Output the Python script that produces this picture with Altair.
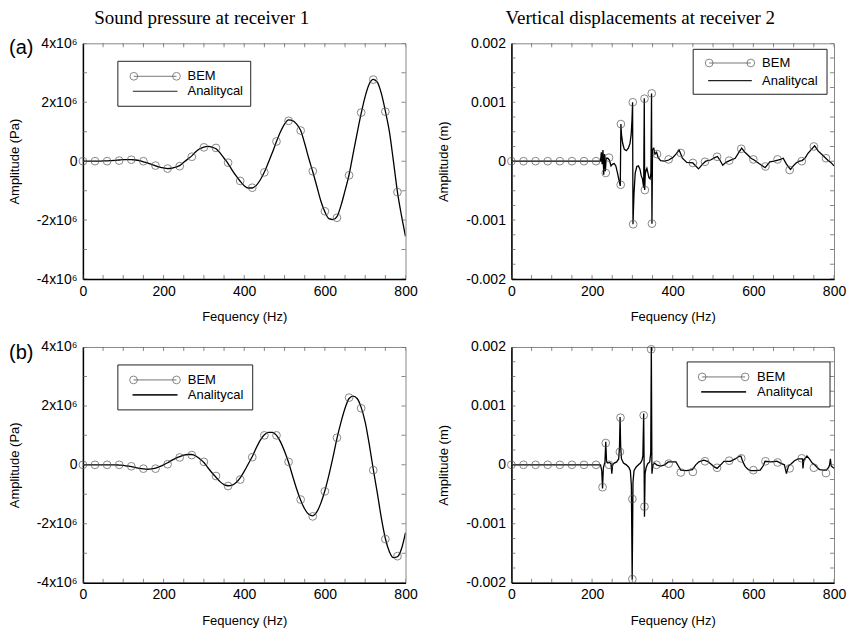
import altair as alt
import pandas as pd

W, H = 323, 236

# ---------------- data ----------------
FREQ_10 = list(range(0, 810, 10))
BEM_FREQ_LEFT = list(range(0, 790, 30))

# (a) sound pressure, receiver 1 (units of 1e6 Pa)
A1_ANALYTICAL = [0, 0, 0, 0, 0, 0.01, 0.01, 0.02, 0.03, 0.04,
                 0.05, 0.05, 0.05, 0.04, 0.02, -0.02, -0.06, -0.11, -0.16, -0.2,
                 -0.23, -0.25, -0.24, -0.2, -0.15, -0.04, 0.07, 0.18, 0.32, 0.42,
                 0.48, 0.5, 0.48, 0.42, 0.28, 0.1, -0.08, -0.3, -0.5, -0.68,
                 -0.83, -0.91, -0.91, -0.82, -0.63, -0.37, -0.04, 0.3, 0.67, 1.0,
                 1.26, 1.4, 1.38, 1.26, 1.04, 0.6, 0.1, -0.36, -0.85, -1.35,
                 -1.72, -1.95, -1.98, -1.88, -1.5, -1.0, -0.46, 0.25, 0.95, 1.62,
                 2.2, 2.62, 2.78, 2.68, 2.3, 1.7, 1.0, 0.0, -1.05, -1.85, -2.55]
A1_BEM = [0, 0, 0, 0.02, 0.05, 0.0, -0.15, -0.25, -0.17, 0.15, 0.47, 0.45, -0.05, -0.67,
          -0.9, -0.38, 0.67, 1.37, 1.04, -0.34, -1.7, -1.92, -0.48, 1.65, 2.77, 1.68, -1.05]

# (b) sound pressure, receiver 1 (units of 1e6 Pa)
B1_ANALYTICAL = [0, 0, 0, 0, 0, 0, 0, 0, 0, -0.01,
                 -0.02, -0.04, -0.06, -0.09, -0.12, -0.14, -0.15, -0.14, -0.11, -0.06,
                 0.0, 0.07, 0.15, 0.22, 0.28, 0.33, 0.35, 0.35, 0.3, 0.2,
                 0.08, -0.1, -0.27, -0.42, -0.57, -0.67, -0.71, -0.69, -0.6, -0.44,
                 -0.22, 0.03, 0.28, 0.58, 0.84, 1.02, 1.1, 1.1, 1.0, 0.78,
                 0.46, 0.08, -0.38, -0.82, -1.2, -1.5, -1.68, -1.73, -1.6, -1.3,
                 -0.88, -0.35, 0.25, 0.9, 1.45, 1.92, 2.25, 2.33, 2.25, 1.95,
                 1.45, 0.7, -0.15, -0.95, -1.8, -2.5, -2.95, -3.15, -3.12, -2.85, -2.3]
B1_BEM = [0, 0, 0, 0, -0.05, -0.13, -0.13, 0.02, 0.25, 0.33, 0.1, -0.38, -0.72, -0.5,
          0.26, 1.0, 1.0, 0.1, -1.18, -1.75, -0.9, 0.92, 2.28, 1.92, -0.18, -2.52, -3.1]

# (a) vertical displacement, receiver 2 (units of 1e-3 m)
A2_ANA_F = [0, 221, 223, 225, 227, 229, 231, 233, 235, 239, 243, 247, 251, 255, 259, 263, 267, 270,
            271.5, 273, 276, 280, 285, 290, 294, 297, 299, 300.5, 301.5, 304, 307, 311, 315, 319,
            322, 325, 328, 329.5, 330.5, 332, 334, 336, 338, 341, 344, 346, 347.5, 348.5, 350, 353,
            356, 360, 364, 370, 380, 390, 400, 408, 416, 424, 435, 450, 464, 474, 482, 494, 504,
            511, 517, 524, 532, 541, 555, 564, 571, 579, 587, 594, 602, 614, 629, 641, 651, 661,
            667, 674, 682, 692, 699, 706, 714, 721, 729, 735, 744, 752, 761, 772, 784, 792, 800]
A2_ANA_V = [0, 0, 0.15, -0.05, 0.19, -0.23, 0.12, -0.17, 0.05, 0.05, 0.02, -0.08, -0.05, -0.04,
            -0.08, -0.2, -0.33, -0.42, 0.63, 0.45, 0.3, 0.2, 0.18, 0.22, 0.3, 0.45, 0.7, 1.0, -1.07,
            -0.55, -0.2, -0.09, -0.08, -0.14, -0.25, -0.3, -0.45, 1.07, -0.49, -0.22, -0.15, -0.12,
            -0.18, -0.28, -0.3, -0.2, 1.15, -1.06, 0.2, 0.22, 0.12, 0.15, 0.06, 0.01, 0.0, 0.02,
            0.06, 0.12, 0.19, 0.05, -0.02, -0.03, -0.13, -0.05, 0.0, 0.02, 0.06, 0.08, 0.02, -0.07,
            -0.02, 0.01, 0.05, 0.15, 0.22, 0.15, 0.1, 0.05, 0.02, -0.04, -0.11, -0.01, 0.0, 0.02,
            0.03, 0.05, -0.05, -0.14, -0.08, -0.03, 0.0, 0.01, 0.06, 0.13, 0.2, 0.26, 0.17, 0.1,
            0.02, -0.02, -0.08]
A2_BEM_F = [0, 30, 60, 90, 120, 150, 180, 210, 234, 242, 271, 271.5, 301, 302, 330, 331, 348,
            348.5, 361, 390, 420, 450, 480, 510, 540, 570, 600, 630, 660, 690, 720, 750, 780]
A2_BEM_V = [0, 0, 0, 0, 0, 0, 0, 0, -0.2, 0.06, -0.4, 0.63, 1.0, -1.07, 1.06, -0.49, 1.15,
            -1.06, 0.12, 0.03, 0.14, -0.03, -0.01, 0.075, 0.01, 0.21, 0.03, -0.09, 0.03, -0.15,
            0.0, 0.25, 0.05]

# (b) vertical displacement, receiver 2 (units of 1e-3 m)
B2_ANA_F = [0, 221, 224, 226, 228, 232, 234, 236, 239, 243, 247, 249, 251, 255, 261, 266, 268,
            269.5, 271, 273, 278, 285, 291, 295, 297.5, 299.5, 301.5, 304, 309, 315, 320, 324,
            326, 328, 329, 330, 331.5, 334, 338, 343, 345.5, 347, 348.5, 351, 355, 360, 370, 380,
            389, 400, 408, 414, 420, 434, 449, 457, 465, 477, 486, 494, 502, 510, 519, 527, 543,
            555, 564, 569, 574, 580, 587, 594, 605, 617, 624, 629, 644, 658, 670, 677, 682, 687,
            694, 702, 711, 720, 722, 723, 725, 733, 739, 746, 752, 759, 764, 773, 781, 787, 789,
            791, 793, 800]
B2_ANA_V = [0, 0, -0.1, -0.4, -0.05, 0.05, 0.39, 0.05, 0.03, 0.04, 0.02, -0.15, 0.0, 0.03, 0.05,
            0.1, 0.3, 0.81, 0.3, 0.1, 0.03, 0.0, -0.04, -0.1, -0.35, -1.95, -0.3, -0.1, -0.04, 0.0,
            0.03, 0.08, 0.15, 0.87, 0.1, -0.88, -0.15, -0.05, 0.02, 0.05, 0.2, 2.05, -0.15, 0.0,
            0.03, 0.0, -0.02, 0.0, 0.05, 0.05, 0.05, -0.02, -0.09, -0.1, -0.08, 0.0, 0.05, 0.08,
            0.06, 0.02, -0.03, -0.06, 0.0, 0.06, 0.06, 0.1, 0.14, 0.15, 0.05, -0.03, -0.08, -0.1,
            -0.1, -0.09, -0.02, 0.06, 0.05, 0.06, 0.02, 0.0, -0.15, -0.02, 0.02, 0.07, 0.1, 0.1,
            0.1, -0.06, 0.08, 0.15, 0.1, 0.03, 0.0, -0.05, -0.08, -0.09, -0.09, -0.04, 0.0, 0.1,
            -0.02, -0.06]
B2_BEM_F = [0, 30, 60, 90, 120, 150, 180, 210, 226, 234, 242, 269, 270.5, 300, 300, 328, 330,
            346.5, 360, 390, 420, 450, 480, 510, 540, 570, 600, 630, 660, 690, 720, 750, 780]
B2_BEM_V = [0, 0, 0, 0, 0, 0, 0, 0, -0.38, 0.37, 0.0, 0.22, 0.8, -0.58, -1.94, 0.84, -0.71,
            1.96, 0.0, 0.02, -0.13, -0.12, 0.06, -0.05, 0.07, 0.11, -0.09, 0.06, 0.04, -0.06,
            0.11, -0.05, -0.14]

X_TICKS = [0, 200, 400, 600, 800]
X_MINOR = list(range(0, 801, 50))
P_TICKS = [-4e6, -2e6, 0, 2e6, 4e6]
P_MINOR = [-4e6, -3e6, -2e6, -1e6, 0, 1e6, 2e6, 3e6, 4e6]
D_TICKS = [-0.002, -0.001, 0, 0.001, 0.002]
D_MINOR = [i * 0.00025 for i in range(-8, 9)]

FONT = "Liberation Sans"
SERIF = "Liberation Serif"
CIRCLE = 60
one = pd.DataFrame({"k": [0]})


def txt(s, x, y, size, font=FONT, align="left", baseline="middle"):
    return alt.Chart(one).mark_text(text=s, font=font, fontSize=size, align=align,
                                    baseline=baseline, color="black").encode(
        x=alt.value(x), y=alt.value(y))


def legend(box, cx1, cx2, y1, y2, tx, ana_w):
    parts = [
        alt.Chart(one).mark_rect(fill="white", stroke="#222", strokeWidth=1).encode(
            x=alt.value(box[0]), x2=alt.value(box[1]), y=alt.value(box[2]), y2=alt.value(box[3])),
        alt.Chart(one).mark_rule(color="#777", strokeWidth=1).encode(
            x=alt.value(cx1), x2=alt.value(cx2), y=alt.value(y1)),
        alt.Chart(one).mark_point(shape="circle", filled=False, size=CIRCLE, color="#555",
                                  strokeWidth=1).encode(x=alt.value(cx1), y=alt.value(y1)),
        alt.Chart(one).mark_point(shape="circle", filled=False, size=CIRCLE, color="#555",
                                  strokeWidth=1).encode(x=alt.value(cx2), y=alt.value(y1)),
        alt.Chart(one).mark_rule(color="#222", strokeWidth=ana_w).encode(
            x=alt.value(cx1 - 1), x2=alt.value(cx2 + 1), y=alt.value(y2)),
        txt("BEM", tx, y1, 13),
        txt("Analitycal", tx, y2, 13),
    ]
    return parts


def panel(ana_f, ana_v, bem_f, bem_v, ydom, yticks, ylabel_expr, ytitle, yminor,
          interp, extras):
    ana = pd.DataFrame({"f": ana_f, "v": ana_v, "i": list(range(len(ana_f)))})
    bem = pd.DataFrame({"f": bem_f, "v": bem_v})
    xax = alt.Axis(values=X_TICKS, title="Fequency (Hz)", titleX=W / 2, titleY=32,
                   ticks=False, grid=False, domainColor="black", domainWidth=1.5,
                   labelFont=FONT, labelFontSize=14, labelColor="black", labelFlush=False,
                   labelOverlap=False, labelPadding=5, titleFont=FONT, titleFontSize=13,
                   titleFontWeight="normal", titleColor="black")
    yax = alt.Axis(values=yticks, labelExpr=ylabel_expr, title=ytitle, titleX=-61,
                   titleY=H / 2, ticks=False, grid=False, domainColor="black",
                   domainWidth=1.5, labelFont=FONT, labelFontSize=14, labelColor="black",
                   labelOverlap=False, labelPadding=6, titleFont=FONT, titleFontSize=13,
                   titleFontWeight="normal", titleColor="black")
    xs = alt.Scale(domain=[0, 800], nice=False, zero=False)
    ys = alt.Scale(domain=ydom, nice=False, zero=False)
    X = alt.X("f:Q", scale=xs, axis=xax)
    Y = alt.Y("v:Q", scale=ys, axis=yax)
    line = alt.Chart(ana).mark_line(color="black", strokeWidth=1.3, clip=True,
                                    interpolate=interp).encode(x=X, y=Y, order="i:Q")
    pts = alt.Chart(bem).mark_point(shape="circle", filled=False, size=CIRCLE, color="#555",
                                    strokeWidth=1).encode(x=X, y=Y)
    xm = pd.DataFrame({"f": X_MINOR})
    ym = pd.DataFrame({"v": yminor})
    ticks = [
        alt.Chart(xm).mark_tick(color="#555", size=8, thickness=1, clip=True).encode(
            x=X, y=alt.value(0)),
        alt.Chart(xm).mark_tick(color="#555", size=8, thickness=1, clip=True).encode(
            x=X, y=alt.value(H)),
        alt.Chart(ym).mark_tick(color="#555", size=8, thickness=1, clip=True).encode(
            y=Y, x=alt.value(0)),
        alt.Chart(ym).mark_tick(color="#555", size=8, thickness=1, clip=True).encode(
            y=Y, x=alt.value(W)),
    ]
    return alt.layer(line, *ticks, pts, *extras).properties(width=W, height=H)


P_EXPR = "datum.value == 0 ? '0' : (datum.value / 1000000) + 'x10\u2076'"
D_EXPR = "datum.value == 0 ? '0' : (datum.value < 0 ? '-' : '') + format(abs(datum.value), '.3f')"

p1 = panel(FREQ_10, [v * 1e6 for v in A1_ANALYTICAL], BEM_FREQ_LEFT,
           [v * 1e6 for v in A1_BEM], [-4e6, 4e6], P_TICKS, P_EXPR, "Amplitude (Pa)",
           P_MINOR, "monotone",
           legend((35, 168, 18, 63), 51, 93.7, 33, 48, 104.7, 1)
           + [txt("(a)", -74, 5, 20),
              txt("Sound pressure at receiver 1", 119, -34, 19, font=SERIF, align="center",
                  baseline="top")])

p2 = panel(A2_ANA_F, [v * 1e-3 for v in A2_ANA_V], A2_BEM_F, [v * 1e-3 for v in A2_BEM_V],
           [-0.002, 0.002], D_TICKS, D_EXPR, "Amplitude (m)", D_MINOR, "linear",
           legend((182, 316, 6, 51), 198, 239.7, 19.7, 37.3, 251, 1.3)
           + [txt("Vertical displacements at receiver 2", 129, -34, 19, font=SERIF,
                  align="center", baseline="top")])

p3 = panel(FREQ_10, [v * 1e6 for v in B1_ANALYTICAL], BEM_FREQ_LEFT,
           [v * 1e6 for v in B1_BEM], [-4e6, 4e6], P_TICKS, P_EXPR, "Amplitude (Pa)",
           P_MINOR, "monotone",
           legend((35, 170, 18, 63), 50.7, 93.7, 33, 48, 105, 1.8)
           + [txt("(b)", -74, 6, 20)])

p4 = panel(B2_ANA_F, [v * 1e-3 for v in B2_ANA_V], B2_BEM_F, [v * 1e-3 for v in B2_BEM_V],
           [-0.002, 0.002], D_TICKS, D_EXPR, "Amplitude (m)", D_MINOR, "linear",
           legend((176, 319, 15, 60), 191, 234, 30, 45, 246, 1.8))

chart = alt.concat(p1, p2, p3, p4, columns=2, spacing={"row": 68, "column": 106},
                   bounds="flush").configure_view(stroke="#888", strokeWidth=1).properties(
    padding={"left": 0, "top": 0, "right": 0, "bottom": 0})

chart.save("out.html", embed_options={"renderer": "svg", "actions": False})
